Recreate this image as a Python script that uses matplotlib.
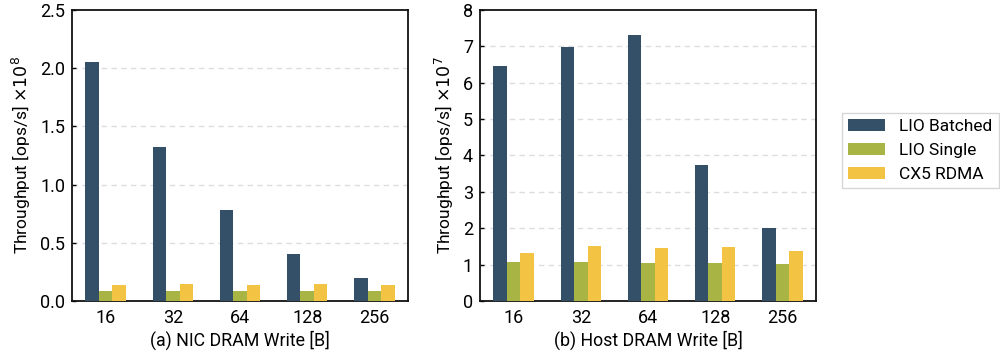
import matplotlib
matplotlib.use("Agg")
import matplotlib.pyplot as plt
import numpy as np

plt.rcParams['font.family'] = ['Roboto', 'DejaVu Sans']

categories = ["16", "32", "64", "128", "256"]
series = ["LIO Batched", "LIO Single", "CX5 RDMA"]
colors = ["#344f68", "#a8b545", "#f3c443"]

nic_batched = [2.05, 1.32, 0.78, 0.40, 0.20]
nic_single = [0.09, 0.09, 0.09, 0.09, 0.09]
nic_rdma = [0.135, 0.15, 0.14, 0.15, 0.135]

host_batched = [6.47, 6.99, 7.32, 3.75, 2.00]
host_single = [1.06, 1.06, 1.04, 1.04, 1.01]
host_rdma = [1.32, 1.51, 1.45, 1.48, 1.37]

fig = plt.figure(figsize=(10, 3.55), dpi=100)
ax1 = fig.add_axes([0.072, 0.152, 0.336, 0.82])
ax2 = fig.add_axes([0.480, 0.152, 0.336, 0.82])

x = np.arange(len(categories))
w = 0.2

def draw(ax, data, ylim, yticks, ylabel, xlabel, ticklabels):
    for i, (vals, c, name) in enumerate(zip(data, colors, series)):
        ax.bar(x + (i - 1) * w, vals, w, color=c, label=name, zorder=3)
    ax.set_xlim(-0.5, 4.5)
    ax.set_ylim(*ylim)
    ax.set_yticks(yticks)
    ax.set_yticklabels(ticklabels)
    ax.set_xticks(x)
    ax.set_xticklabels(categories)
    for t in yticks[1:-1]:
        ax.axhline(t, color="#dddddd", linestyle=(0, (4, 3)), linewidth=1, zorder=1)
    ax.tick_params(axis='y', direction='in', length=3, width=1, labelsize=13, pad=5)
    ax.tick_params(axis='x', length=0, labelsize=13, pad=6)
    for s in ax.spines.values():
        s.set_linewidth(1.3)
        s.set_color("#111111")
    ax.set_ylabel(ylabel, fontsize=12.5, labelpad=5)
    ax.set_xlabel(xlabel, fontsize=12.8, labelpad=2)

yt1 = [0.0, 0.5, 1.0, 1.5, 2.0, 2.5]
draw(ax1, [nic_batched, nic_single, nic_rdma], (0, 2.5), yt1,
     r"Throughput [ops/s] $\times10^{8}$", "(a) NIC DRAM Write [B]",
     ["0.0", "0.5", "1.0", "1.5", "2.0", "2.5"])
yt2 = [0, 1, 2, 3, 4, 5, 6, 7, 8]
draw(ax2, [host_batched, host_single, host_rdma], (0, 8), yt2,
     r"Throughput [ops/s] $\times10^{7}$", "(b) Host DRAM Write [B]",
     [str(t) for t in yt2])

h, l = ax2.get_legend_handles_labels()
fig.legend(h, l, loc="upper left", bbox_to_anchor=(0.842, 0.682), fontsize=12.5,
           frameon=True, fancybox=False, edgecolor="#cccccc", handlelength=2.1,
           handleheight=0.7, borderpad=0.35, labelspacing=0.5, handletextpad=0.85,
           borderaxespad=0)

fig.savefig("out.png", dpi=100)
